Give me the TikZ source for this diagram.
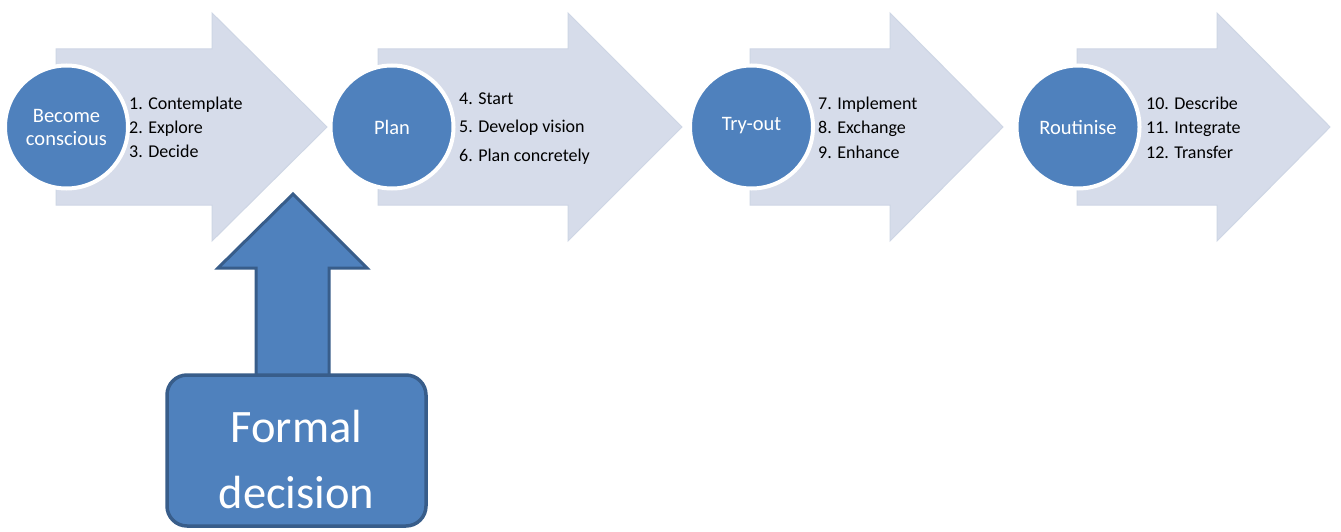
\documentclass[tikz,border=0pt]{standalone}
\usepackage{fontspec}
\setmainfont{Carlito}
\definecolor{arrowfill}{RGB}{214,220,234}
\definecolor{arrowedge}{RGB}{206,214,229}
\definecolor{circfill}{RGB}{79,129,189}
\definecolor{darkedge}{RGB}{56,93,138}
\newcommand\blockarrow[3]{%
  \draw[bigarrow] (#1,49) -- (#2,49) -- (#2,13) -- (#3,127) -- (#2,241) -- (#2,205) -- (#1,205) -- cycle;}
\begin{document}
\begin{tikzpicture}[x=1pt,y=-1pt,
  bigarrow/.style={fill=arrowfill, draw=arrowedge, line width=1pt, line join=miter},
  phase/.style={circle, fill=circfill, draw=white, line width=4pt, minimum size=123pt,
    inner sep=0pt, text=white, font=\fontsize{20.5}{23}\selectfont, align=center},
  steps/.style={anchor=west, align=left, inner sep=0pt, text=black},
  uparrow/.style={fill=circfill, draw=darkedge, line width=3pt, line join=miter},
  fdbox/.style={rectangle, rounded corners=20pt, fill=circfill, draw=darkedge, line width=3.5pt,
    minimum width=259pt, minimum height=151pt, inner sep=0pt},
  fdtext/.style={text=white, align=center, inner sep=0pt, font=\fontsize{46.5}{66}\selectfont}]
\fill[white] (0,0) rectangle (1341,532);
\useasboundingbox (0,0) rectangle (1341,532);
% block arrows
\blockarrow{56}{212}{327}
\blockarrow{378}{568}{682}
\blockarrow{750}{890}{1003}
\blockarrow{1077}{1217}{1330}
% phases
\node[phase] (p1) at (66.5,127) {Become\\conscious};
\node[phase] (p2) at (392,127) {Plan};
\node[phase, text height=0.7em, text depth=0.05em] (p3) at (751.5,127) {Try-out};
\node[phase] (p4) at (1078,127) {Routinise};
% steps
\node[steps, font=\fontsize{18}{24}\selectfont] (s1) at (129,127) {1. Contemplate\\2. Explore\\3. Decide};
\node[steps, font=\fontsize{18}{28.5}\selectfont] (s2) at (459,128.5) {4. Start\\5. Develop vision\\6. Plan concretely};
\node[steps, font=\fontsize{18}{24.5}\selectfont] (s3) at (818,127.5) {7. Implement\\8. Exchange\\9. Enhance};
\node[steps, font=\fontsize{18}{24.5}\selectfont] (s4) at (1146,127.5) {10. Describe\\11. Integrate\\12. Transfer};
% formal decision
\draw[uparrow] (256,385) -- (256,268) -- (218,268) -- (293,194) -- (367,268) -- (329,268) -- (329,385) -- cycle;
\node[fdbox] (fd) at (296.5,450.5) {};
\node[fdtext] (fdt) at ([yshift=-9.5pt]fd.center) {Formal\\decision};
\end{tikzpicture}
\end{document}
